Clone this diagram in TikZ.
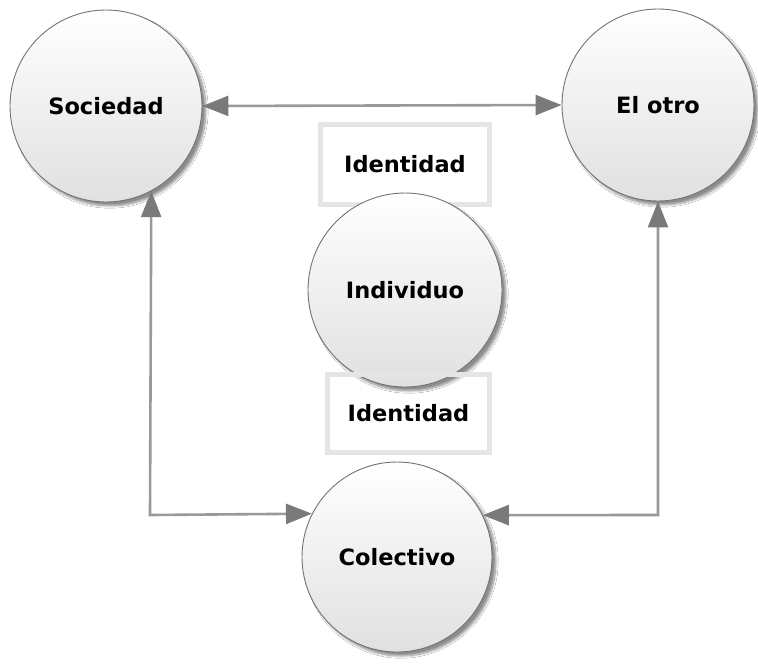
\documentclass[tikz,border=0pt]{standalone}
\usepackage{fontspec}
\setmainfont{DejaVu Sans}
\usetikzlibrary{arrows.meta,shadows.blur}
\tikzset{
  lbl/.style={font=\bfseries\fontsize{22.5}{26}\selectfont},
  circ/.style={circle, draw=black!55, line width=0.9pt, top color=white, bottom color=black!12,
    minimum size=#1, inner sep=0pt,
    blur shadow={shadow xshift=4pt, shadow yshift=-4pt, shadow blur steps=8, shadow opacity=45},
    lbl},
  idbox/.style={draw=black!10, line width=5pt, fill=white, inner sep=0pt, lbl},
  idframe/.style={draw=black!10, line width=5pt, inner sep=0pt},
  tipp/.tip={Triangle[length=26pt,width=20pt,color=black!52]},
  conn/.style={draw=black!40, line width=2.6pt, arrows={tipp-tipp}}
}
\begin{document}
\begin{tikzpicture}[x=1pt,y=-1pt]
\useasboundingbox (0,0) rectangle (758,664);
\fill[white] (0,0) rectangle (758,664);
% boxes
\node[idbox, minimum width=169pt, minimum height=80pt] (id1) at (405,164.5) {Identidad};
\node[idbox, minimum width=162pt, minimum height=78pt] (id2) at (408.5,413.5) {};
% circles
\node[circ=192pt] (soc) at (106,106) {Sociedad};
\node[circ=192pt] (oth) at (658,105) {El otro};
\node[circ=194pt] (ind) at (405,290) {Individuo};
\node[circ=190pt] (col) at (397,557) {Colectivo};
% bottom box frame and text over the circle
\node[idframe, minimum width=162pt, minimum height=78pt] at (id2.center) {};
\node[lbl] at (id2.center) {Identidad};
% connectors
\coordinate (cl) at (150,515);
\coordinate (cr) at (658,515);
\draw[conn] (soc.east) -- (oth.west);
\draw[conn] (soc.-62.7) -- (cl) -- (col.153.2);
\draw[conn] (oth.south) -- (cr) -- (col.26.8);
\end{tikzpicture}
\end{document}
